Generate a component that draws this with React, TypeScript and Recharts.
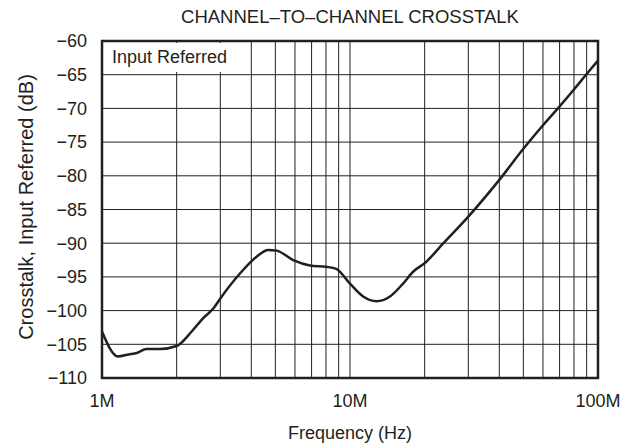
import React from "react";
import {
  LineChart,
  Line,
  XAxis,
  YAxis,
  CartesianGrid,
  ReferenceArea,
  Label,
} from "recharts";

// frequency in Hz, crosstalk in dB
const freqs = [
  1.0e6, 1.16e6, 1.28e6, 1.38e6, 1.51e6, 1.71e6, 2.0e6, 2.3e6, 2.56e6, 2.81e6,
  3.0e6, 3.6e6, 4.2e6, 4.68e6, 5.06e6, 5.9e6, 6.9e6, 8.0e6, 8.8e6, 10e6,
  11.3e6, 12.8e6, 14.5e6, 16.4e6, 18e6, 20.1e6, 23.8e6, 30e6, 40e6, 50e6,
  60e6, 70e6, 80e6, 90e6, 100e6,
];
const crosstalk = [
  -103.1, -106.8, -106.5, -106.3, -105.7, -105.7, -105.25, -103.1, -101.1, -99.7,
  -98.2, -94.5, -92.0, -91.0, -91.1, -92.5, -93.3, -93.5, -93.8, -96.0,
  -97.9, -98.6, -97.9, -95.95, -94.2, -92.9, -90.0, -86.05, -80.6, -76.0,
  -72.5, -69.7, -67.2, -64.9, -62.9,
];

// log grid: every 1..9 of each decade
const xTicks = [
  1e6, 2e6, 3e6, 4e6, 5e6, 6e6, 7e6, 8e6, 9e6,
  1e7, 2e7, 3e7, 4e7, 5e7, 6e7, 7e7, 8e7, 9e7, 1e8,
];
const xLabels: Record<number, string> = { 1e6: "1M", 1e7: "10M", 1e8: "100M" };
const yTicks = [-110, -105, -100, -95, -90, -85, -80, -75, -70, -65, -60];

const data = freqs.map((f, i) => ({ f, v: crosstalk[i] }));

const FONT = "'Liberation Sans', Arial, Helvetica, sans-serif";
const INK = "#231f20";

export default function App() {
  return (
    <div style={{ position: "absolute", left: 0, top: 0, width: 638, height: 445, background: "#fff" }}>
      <LineChart
        width={638}
        height={445}
        data={data}
        margin={{ top: 41, right: 40, bottom: 37, left: 0 }}
      >
        <CartesianGrid stroke={INK} strokeWidth={1} />
        <XAxis
          dataKey="f"
          type="number"
          scale="log"
          domain={[1e6, 1e8]}
          ticks={xTicks}
          interval={0}
          height={30}
          tickFormatter={(t: number) => xLabels[t] ?? ""}
          tickLine={false}
          axisLine={false}
          tickSize={0}
          tickMargin={16}
          tick={{ fill: INK, fontSize: 18, fontFamily: FONT }}
          allowDataOverflow
        >
          <Label
            content={() => (
              <text x={350} y={439} textAnchor="middle" fill={INK} fontSize={18} fontFamily={FONT}>
                Frequency (Hz)
              </text>
            )}
          />
        </XAxis>
        <YAxis
          type="number"
          domain={[-110, -60]}
          ticks={yTicks}
          interval={0}
          width={102}
          tickLine={false}
          axisLine={false}
          tickSize={0}
          tickMargin={15}
          tick={{ fill: INK, fontSize: 18, fontFamily: FONT }}
          tickFormatter={(t: number) => String(t).replace("-", "\u2212")}
          allowDataOverflow
        >
          <Label
            content={() => (
              <text
                x={33}
                y={207}
                transform="rotate(-90 33 207)"
                textAnchor="middle"
                fill={INK}
                fontSize={20}
                fontFamily={FONT}
              >
                Crosstalk, Input Referred (dB)
              </text>
            )}
          />
        </YAxis>
        <ReferenceArea
          x1={1e6}
          x2={1e8}
          y1={-110}
          y2={-60}
          fill="none"
          stroke={INK}
          strokeWidth={2.5}
        />
        <Line
          type="monotone"
          dataKey="v"
          stroke={INK}
          strokeWidth={2.5}
          dot={false}
          isAnimationActive={false}
        />
      </LineChart>
      <div
        style={{
          position: "absolute",
          left: 0,
          top: 6,
          width: 700,
          textAlign: "center",
          fontFamily: FONT,
          fontSize: 18.5,
          color: INK,
          lineHeight: "22px",
        }}
      >
        CHANNEL–TO–CHANNEL CROSSTALK
      </div>
      <div
        style={{
          position: "absolute",
          left: 104,
          top: 43,
          width: 131,
          height: 29,
          background: "#fff",
          fontFamily: FONT,
          fontSize: 18,
          color: INK,
          lineHeight: "29px",
          paddingLeft: 8,
          boxSizing: "border-box",
        }}
      >
        Input Referred
      </div>
    </div>
  );
}
